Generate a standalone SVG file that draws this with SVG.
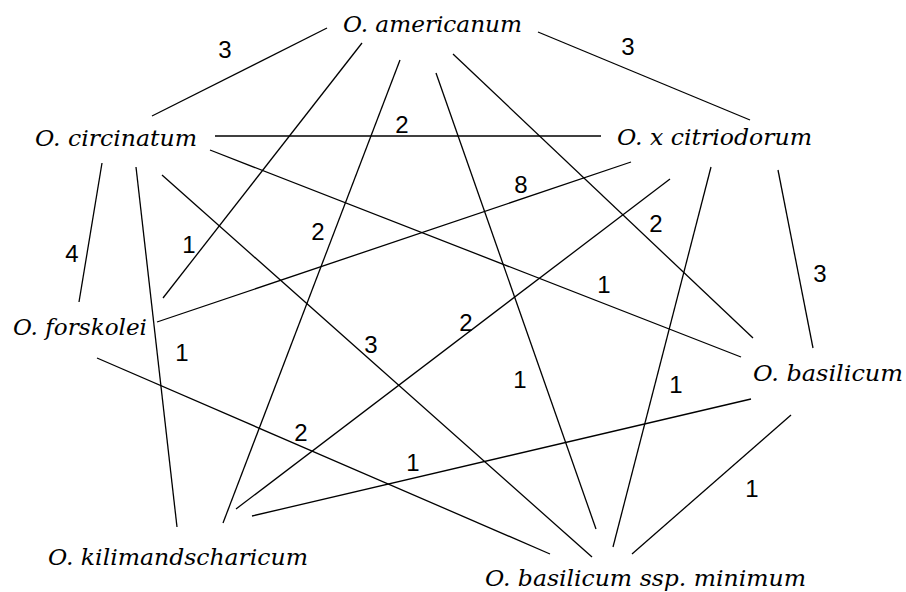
<svg xmlns="http://www.w3.org/2000/svg" width="906" height="592" viewBox="0 0 906 592">
<style>
.n{font-family:"DejaVu Serif","Liberation Serif",serif;font-style:italic;font-size:22.5px;fill:#000}
.e line{stroke:#000;stroke-width:1.3;fill:none}
.w{font-family:"Liberation Sans",Arial,sans-serif;font-size:24px;fill:#000;text-anchor:middle}
</style>
<rect width="906" height="592" fill="#fff"/>
<g id="connectors" class="e">
<line x1="327" y1="28" x2="152" y2="116"/>
<line x1="362" y1="43" x2="163" y2="298"/>
<line x1="400" y1="60" x2="223" y2="523"/>
<line x1="436" y1="73" x2="596" y2="529"/>
<line x1="453" y1="54" x2="753" y2="338"/>
<line x1="538" y1="32" x2="750" y2="120"/>
<line x1="215" y1="136" x2="601" y2="136"/>
<line x1="210" y1="150" x2="741" y2="357"/>
<line x1="102" y1="163" x2="79" y2="302"/>
<line x1="136" y1="167" x2="177" y2="527"/>
<line x1="162" y1="175" x2="592" y2="557"/>
<line x1="631" y1="162" x2="157" y2="322"/>
<line x1="670" y1="179" x2="236" y2="509"/>
<line x1="711" y1="167" x2="613" y2="547"/>
<line x1="778" y1="170" x2="813" y2="348"/>
<line x1="97" y1="358" x2="550" y2="554"/>
<line x1="751" y1="399" x2="252" y2="516"/>
<line x1="791" y1="415" x2="632" y2="554"/>
<g id="edge-labels">
<text class="w" x="225" y="58">3</text>
<text class="w" x="628" y="55">3</text>
<text class="w" x="402" y="133">2</text>
<text class="w" x="521" y="193">8</text>
<text class="w" x="189" y="253">1</text>
<text class="w" x="72" y="262">4</text>
<text class="w" x="318" y="240">2</text>
<text class="w" x="656" y="232">2</text>
<text class="w" x="820" y="282">3</text>
<text class="w" x="604" y="293">1</text>
<text class="w" x="466" y="331">2</text>
<text class="w" x="182" y="361">1</text>
<text class="w" x="371" y="353">3</text>
<text class="w" x="520" y="388">1</text>
<text class="w" x="676" y="393">1</text>
<text class="w" x="301" y="441">2</text>
<text class="w" x="413" y="471">1</text>
<text class="w" x="752" y="497">1</text>
</g>
</g>
<g id="americanum"><text class="n" x="343" y="32" textLength="179" lengthAdjust="spacingAndGlyphs">O. americanum</text></g>
<g id="circinatum"><text class="n" x="35" y="146" textLength="162" lengthAdjust="spacingAndGlyphs">O. circinatum</text></g>
<g id="citriodorum"><text class="n" x="617" y="145" textLength="195" lengthAdjust="spacingAndGlyphs">O. x citriodorum</text></g>
<g id="forskolei"><text class="n" x="13" y="335" textLength="134" lengthAdjust="spacingAndGlyphs">O. forskolei</text></g>
<g id="basilicum"><text class="n" x="753" y="381" textLength="150" lengthAdjust="spacingAndGlyphs">O. basilicum</text></g>
<g id="kilimandscharicum"><text class="n" x="48" y="565" textLength="260" lengthAdjust="spacingAndGlyphs">O. kilimandscharicum</text></g>
<g id="minimum"><text class="n" x="485" y="586" textLength="321" lengthAdjust="spacingAndGlyphs">O. basilicum ssp. minimum</text></g>
</svg>
